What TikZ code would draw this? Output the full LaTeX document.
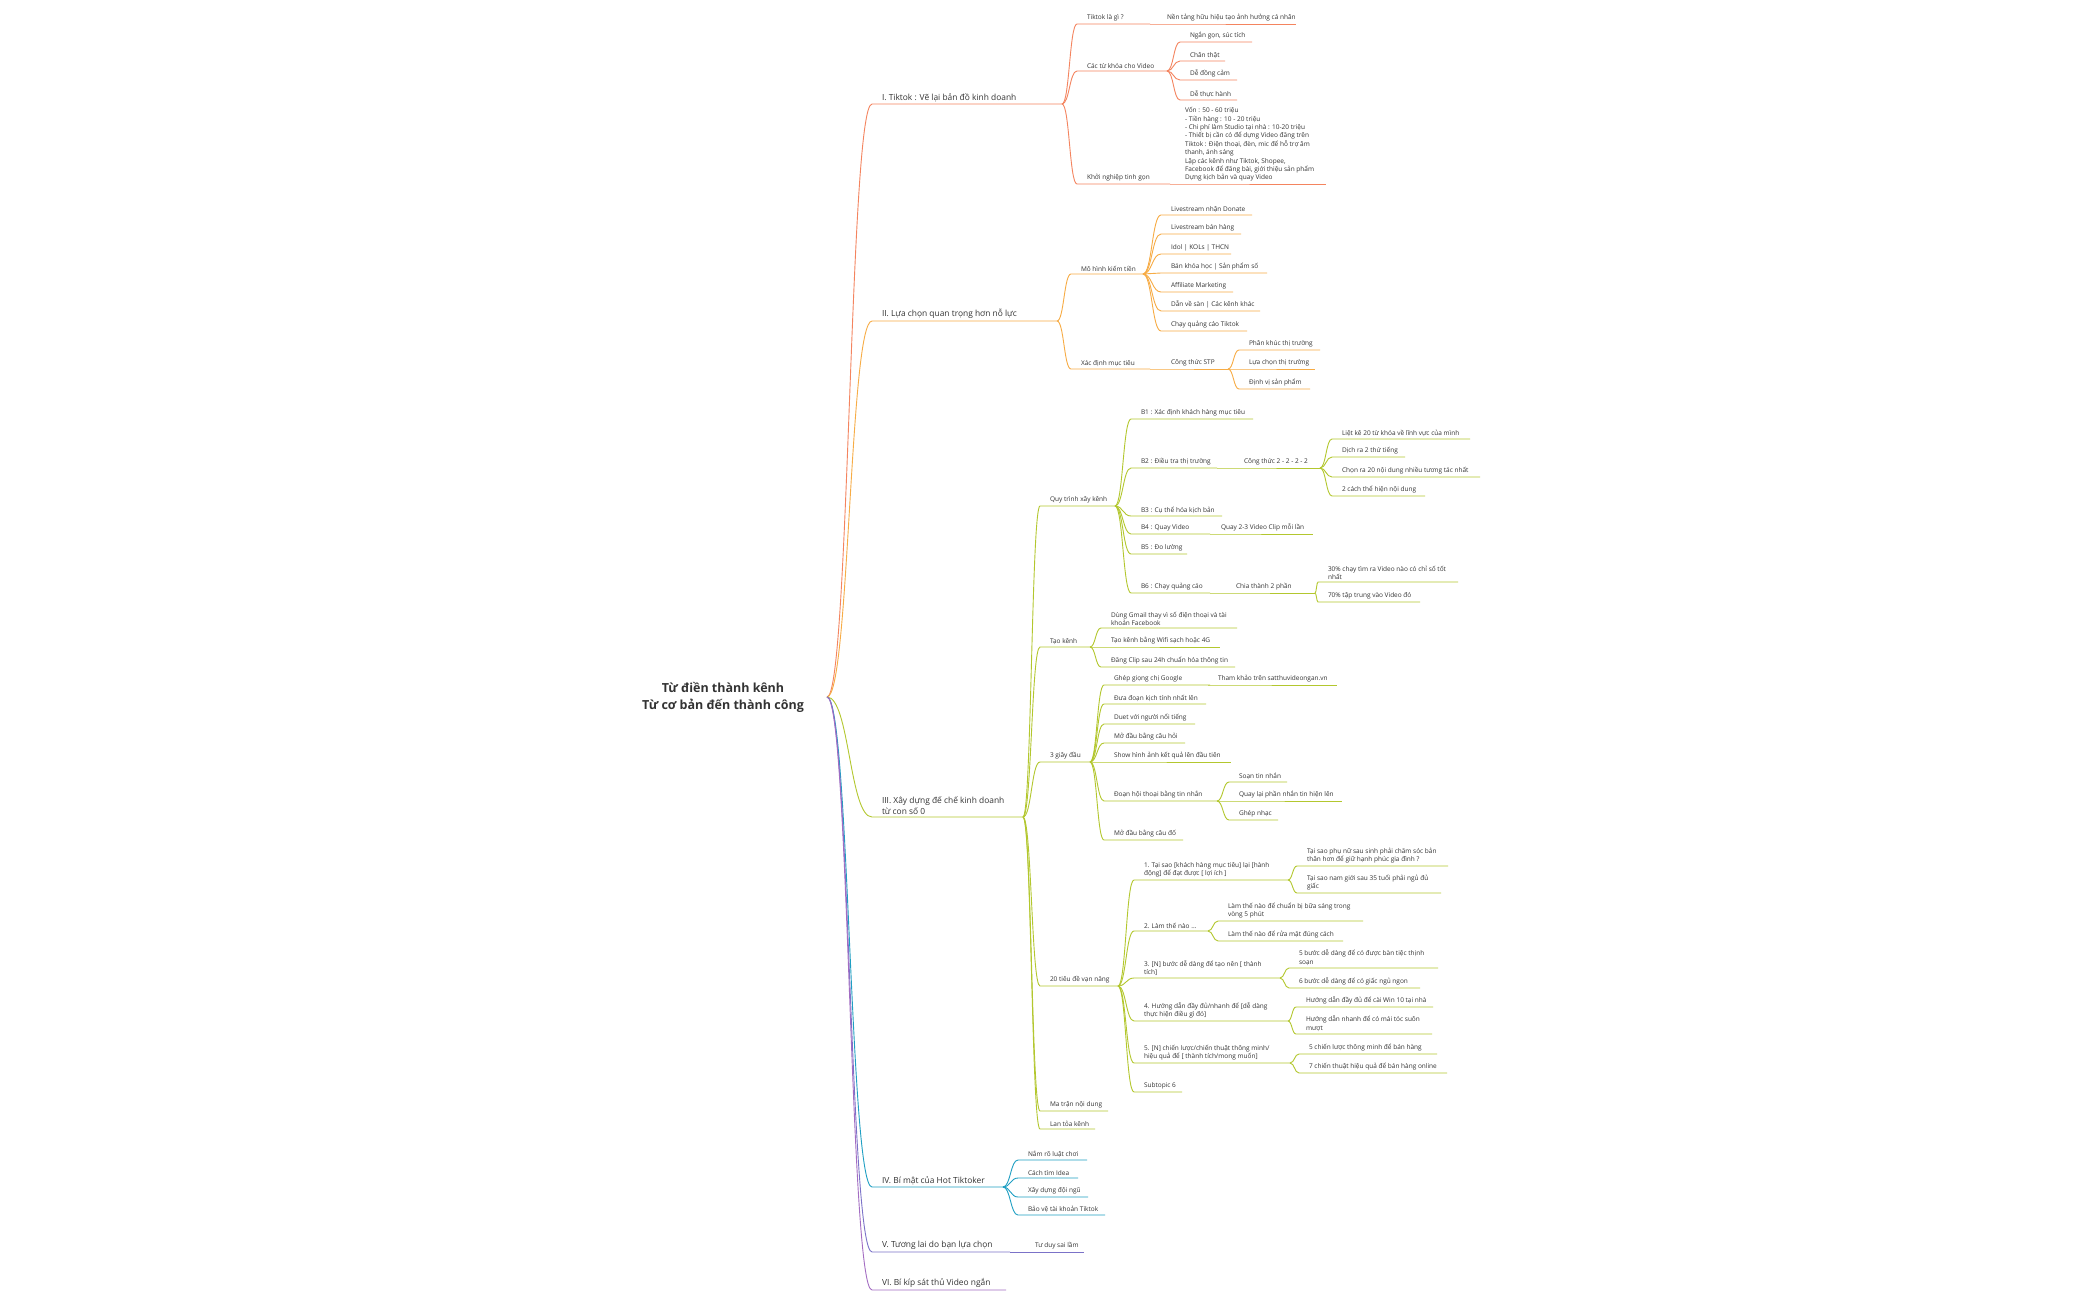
\documentclass[tikz,border=0pt]{standalone}
\usepackage{fontspec}
\setmainfont{Open Sans}
\usetikzlibrary{calc}
\definecolor{cI}{HTML}{F4845F}
\definecolor{cII}{HTML}{F7AC45}
\definecolor{cIII}{HTML}{B3C72E}
\definecolor{cIV}{HTML}{1F9FC3}
\definecolor{cV}{HTML}{7B72C8}
\definecolor{cVI}{HTML}{A36CC2}
\definecolor{txt}{HTML}{333333}
\tikzset{
  lbl/.style={anchor=south west,inner sep=0pt,outer sep=0pt,text=txt,align=left,font=\fontsize{6.5}{8.4}\selectfont},
  sec/.style={lbl,font=\fontsize{8.4}{10.5}\selectfont},
  conn/.style={line width=0.9pt}
}
% #1 style, #2 name, #3 parent, #4 colour, #5 text x, #6 underline y, #7 end x, #8 text
\newcommand\tp[8][lbl]{%
  \node[#1] (#2) at (#5,{-(#6)+2.5}) {#8};
  \coordinate (#2-s) at ({#5-10},-#6);
  \coordinate (#2-e) at (#7,-#6);
  \draw[#4,conn] let \p1=(#3-e), \p2=(#2-s) in
    (\p1) .. controls ({0.5*\x1+0.5*\x2},\y1) and ({0.5*\x1+0.5*\x2},\y2) .. (\p2) -- (#2-e);
}
\begin{document}
\begin{tikzpicture}[x=1pt,y=1pt]
\fill[white] (0,0) rectangle (2100,-1300);
\useasboundingbox (0,0) rectangle (2100,-1300);
\node[align=center,text=txt,font=\fontsize{12.5}{17}\selectfont\bfseries] (root) at (723,-697) {Từ điền thành kênh\\Từ cơ bản đến thành công};
\coordinate (root-e) at (827,-697);
% I
\tp[sec]{s1}{root}{cI}{882}{104}{1062}{I. Tiktok : Vẽ lại bản đồ kinh doanh}
\tp{a1}{s1}{cI}{1087}{24}{1150}{Tiktok là gì ?}
\tp{a1a}{a1}{cI}{1167}{24}{1296}{Nền tảng hữu hiệu tạo ảnh hưởng cá nhân}
\tp{a2}{s1}{cI}{1087}{71}{1167}{Các từ khóa cho Video}
\tp{a2a}{a2}{cI}{1190}{42}{1252}{Ngắn gọn, súc tích}
\tp{a2b}{a2}{cI}{1190}{61}{1225}{Chân thật}
\tp{a2c}{a2}{cI}{1190}{80}{1237}{Dễ đồng cảm}
\tp{a2d}{a2}{cI}{1190}{100}{1237}{Dễ thực hành}
\tp{a3}{s1}{cI}{1087}{184}{1170}{Khởi nghiệp tinh gọn}
\tp{a3a}{a3}{cI}{1185}{184}{1326}{Vốn : 50 - 60 triệu\\- Tiền hàng : 10 - 20 triệu\\- Chi phí làm Studio tại nhà : 10-20 triệu\\- Thiết bị cần có để dựng Video đăng trên\\Tiktok : Điện thoại, đèn, mic để hỗ trợ âm\\thanh, ánh sáng\\Lập các kênh như Tiktok, Shopee,\\Facebook để đăng bài, giới thiệu sản phẩm\\Dựng kịch bản và quay Video}
% II
\tp[sec]{s2}{root}{cII}{882}{321}{1057}{II. Lựa chọn quan trọng hơn nỗ lực}
\tp{b1}{s2}{cII}{1081}{274}{1143}{Mô hình kiếm tiền}
\tp{b1a}{b1}{cII}{1171}{215}{1252}{Livestream nhận Donate}
\tp{b1b}{b1}{cII}{1171}{234}{1241}{Livestream bán hàng}
\tp{b1c}{b1}{cII}{1171}{254}{1231}{Idol | KOLs | THCN}
\tp{b1d}{b1}{cII}{1171}{273}{1267}{Bán khóa học | Sản phẩm số}
\tp{b1e}{b1}{cII}{1171}{292}{1233}{Affiliate Marketing}
\tp{b1f}{b1}{cII}{1171}{311}{1260}{Dẫn về sàn | Các kênh khác}
\tp{b1g}{b1}{cII}{1171}{331}{1247}{Chạy quảng cáo Tiktok}
\tp{b2}{s2}{cII}{1081}{369}{1150}{Xác định mục tiêu}
\tp{b2a}{b2}{cII}{1171}{369}{1228}{Công thức STP}
\tp{b2a1}{b2a}{cII}{1249}{350}{1320}{Phân khúc thị trường}
\tp{b2a2}{b2a}{cII}{1249}{369}{1315}{Lựa chọn thị trường}
\tp{b2a3}{b2a}{cII}{1249}{389}{1310}{Định vị sản phẩm}
% III
\tp[sec]{s3}{root}{cIII}{882}{817}{1023}{III. Xây dựng đế chế kinh doanh\\từ con số 0}
\tp{c1}{s3}{cIII}{1050}{506}{1115}{Quy trình xây kênh}
\tp{q1}{c1}{cIII}{1141}{419}{1253}{B1 : Xác định khách hàng mục tiêu}
\tp{q2}{c1}{cIII}{1141}{468}{1217}{B2 : Điều tra thị trường}
\tp{q2a}{q2}{cIII}{1244}{468}{1320}{Công thức 2 - 2 - 2 - 2}
\tp{q2a1}{q2a}{cIII}{1342}{439}{1470}{Liệt kê 20 từ khóa về lĩnh vực của mình}
\tp{q2a2}{q2a}{cIII}{1342}{457}{1405}{Dịch ra 2 thứ tiếng}
\tp{q2a3}{q2a}{cIII}{1342}{477}{1480}{Chọn ra 20 nội dung nhiều tương tác nhất}
\tp{q2a4}{q2a}{cIII}{1342}{496}{1425}{2 cách thể hiện nội dung}
\tp{q3}{c1}{cIII}{1141}{516}{1222}{B3 : Cụ thể hóa kịch bản}
\tp{q4}{c1}{cIII}{1141}{534}{1210}{B4 : Quay Video}
\tp{q4a}{q4}{cIII}{1221}{534}{1313}{Quay 2-3 Video Clip mỗi lần}
\tp{q5}{c1}{cIII}{1141}{554}{1187}{B5 : Đo lường}
\tp{q6}{c1}{cIII}{1141}{593}{1210}{B6 : Chạy quảng cáo}
\tp{q6a}{q6}{cIII}{1236}{593}{1315}{Chia thành 2 phần}
\tp{q6a1}{q6a}{cIII}{1328}{582}{1458}{30\% chạy tìm ra Video nào có chỉ số tốt\\nhất}
\tp{q6a2}{q6a}{cIII}{1328}{602}{1420}{70\% tập trung vào Video đó}
\tp{c2}{s3}{cIII}{1050}{647}{1090}{Tạo kênh}
\tp{t1}{c2}{cIII}{1111}{628}{1237}{Dùng Gmail thay vì số điện thoại và tài\\khoản Facebook}
\tp{t2}{c2}{cIII}{1111}{647}{1220}{Tạo kênh bằng Wifi sạch hoặc 4G}
\tp{t3}{c2}{cIII}{1111}{667}{1235}{Đăng Clip sau 24h chuẩn hóa thông tin}
\tp{c3}{s3}{cIII}{1050}{762}{1090}{3 giây đầu}
\tp{g1}{c3}{cIII}{1114}{685}{1210}{Ghép giọng chị Google}
\tp{g1a}{g1}{cIII}{1218}{685}{1337}{Tham khảo trên satthuvideongan.vn}
\tp{g2}{c3}{cIII}{1114}{704}{1206}{Đưa đoạn kịch tính nhất lên}
\tp{g3}{c3}{cIII}{1114}{724}{1195}{Duet với người nổi tiếng}
\tp{g4}{c3}{cIII}{1114}{743}{1185}{Mở đầu bằng câu hỏi}
\tp{g5}{c3}{cIII}{1114}{762}{1231}{Show hình ảnh kết quả lên đầu tiên}
\tp{g6}{c3}{cIII}{1114}{801}{1217}{Đoạn hội thoại bằng tin nhắn}
\tp{g6a}{g6}{cIII}{1239}{782}{1287}{Soạn tin nhắn}
\tp{g6b}{g6}{cIII}{1239}{801}{1342}{Quay lại phần nhắn tin hiện lên}
\tp{g6c}{g6}{cIII}{1239}{820}{1278}{Ghép nhạc}
\tp{g7}{c3}{cIII}{1114}{840}{1183}{Mở đầu bằng câu đố}
\tp{c4}{s3}{cIII}{1050}{986}{1118}{20 tiêu đề vạn năng}
\tp{h1}{c4}{cIII}{1144}{880}{1288}{1. Tại sao [khách hàng mục tiêu] lại [hành\\động] để đạt được [ lợi ích ]}
\tp{h1a}{h1}{cIII}{1307}{866}{1448}{Tại sao phụ nữ sau sinh phải chăm sóc bản\\thân hơn để giữ hạnh phúc gia đình ?}
\tp{h1b}{h1}{cIII}{1307}{893}{1441}{Tại sao nam giới sau 35 tuổi phải ngủ đủ\\giấc}
\tp{h2}{c4}{cIII}{1144}{931}{1208}{2. Làm thế nào ...}
\tp{h2a}{h2}{cIII}{1228}{921}{1363}{Làm thế nào để chuẩn bị bữa sáng trong\\vòng 5 phút}
\tp{h2b}{h2}{cIII}{1228}{941}{1343}{Làm thế nào để rửa mặt đúng cách}
\tp{h3}{c4}{cIII}{1144}{978}{1280}{3. [N] bước dễ dàng để tạo nên [ thành\\tích]}
\tp{h3a}{h3}{cIII}{1299}{968}{1438}{5 bước dễ dàng để có được bàn tiệc thịnh\\soạn}
\tp{h3b}{h3}{cIII}{1299}{988}{1420}{6 bước dễ dàng để có giấc ngủ ngon}
\tp{h4}{c4}{cIII}{1144}{1021}{1288}{4. Hướng dẫn đầy đủ/nhanh để [dễ dàng\\thực hiện điều gì đó]}
\tp{h4a}{h4}{cIII}{1306}{1007}{1433}{Hướng dẫn đầy đủ để cài Win 10 tại nhà}
\tp{h4b}{h4}{cIII}{1306}{1034}{1432}{Hướng dẫn nhanh để có mái tóc suôn\\mượt}
\tp{h5}{c4}{cIII}{1144}{1063}{1290}{5. [N] chiến lược/chiến thuật thông minh/\\hiệu quả để [ thành tích/mong muốn]}
\tp{h5a}{h5}{cIII}{1309}{1054}{1437}{5 chiến lược thông minh để bán hàng}
\tp{h5b}{h5}{cIII}{1309}{1073}{1447}{7 chiến thuật hiệu quả để bán hàng online}
\tp{h6}{c4}{cIII}{1144}{1092}{1182}{Subtopic 6}
\tp{c5}{s3}{cIII}{1050}{1111}{1108}{Ma trận nội dung}
\tp{c6}{s3}{cIII}{1050}{1129}{1095}{Lan tỏa kênh}
% IV
\tp[sec]{s4}{root}{cIV}{882}{1187}{1003}{IV. Bí mật của Hot Tiktoker}
\tp{d1}{s4}{cIV}{1028}{1160}{1087}{Nắm rõ luật chơi}
\tp{d2}{s4}{cIV}{1028}{1178}{1078}{Cách tìm Idea}
\tp{d3}{s4}{cIV}{1028}{1197}{1088}{Xây dựng đội ngũ}
\tp{d4}{s4}{cIV}{1028}{1215}{1105}{Bảo vệ tài khoản Tiktok}
% V
\tp[sec]{s5}{root}{cV}{882}{1252}{1010}{V. Tương lai do bạn lựa chọn}
\tp{e1}{s5}{cV}{1035}{1252}{1084}{Tư duy sai lầm}
% VI
\tp[sec]{s6}{root}{cVI}{882}{1290}{1006}{VI. Bí kíp sát thủ Video ngắn}
\end{tikzpicture}
\end{document}
